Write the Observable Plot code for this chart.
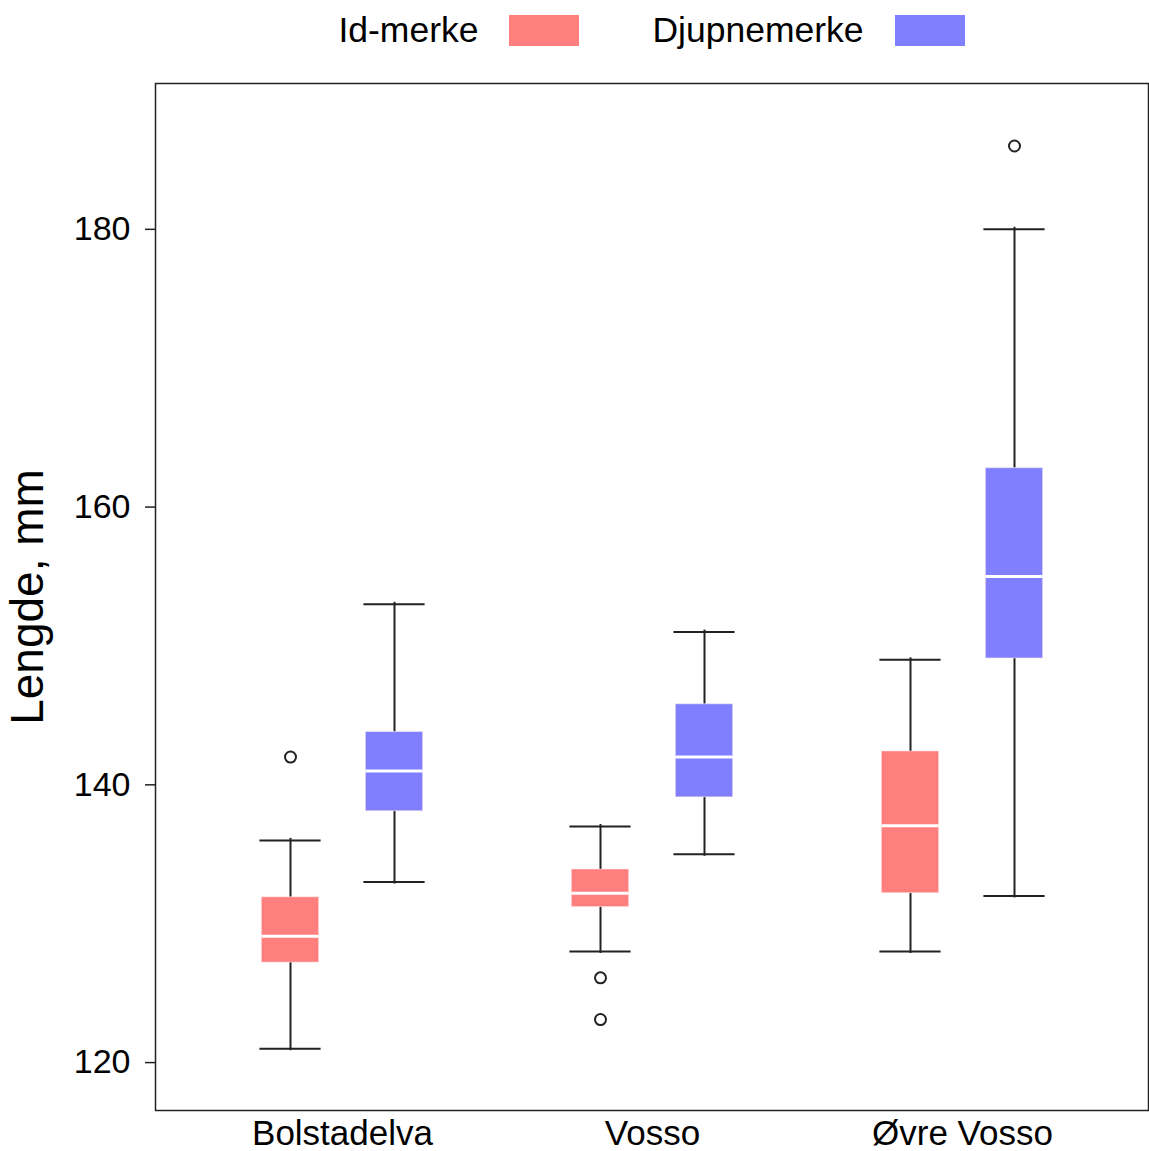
<!DOCTYPE html>
<html>
<head>
<meta charset="utf-8">
<script src="https://cdn.jsdelivr.net/npm/d3@7"></script>
<script src="https://cdn.jsdelivr.net/npm/@observablehq/plot@0.6"></script>
<style>
  html, body { margin: 0; padding: 0; background: #fff; }
  #wrap { position: relative; width: 1149px; height: 1151px; font-family: "Liberation Sans", Arial, sans-serif; }
  #legend { position: absolute; left: 155px; top: 13px; width: 993px; height: 35px; display: flex; justify-content: center; align-items: center; font-size: 35.5px; color: #000; }
  #legend .sw { width: 70px; height: 31px; display: inline-block; }
</style>
</head>
<body>
<div id="wrap">
  <div id="legend"></div>
</div>
<script>
const categories = ["Bolstadelva", "Vosso", "Øvre Vosso"];
const groups = ["Id-merke", "Djupnemerke"];
const colors = ["#FF7F7F", "#7F7FFF"];

// Summary stats per category: [whiskerLow, Q1, median, Q3, whiskerHigh]
const idLow    = [121, 128, 128];
const idQ1     = [127.2, 131.2, 132.2];
const idMedian = [129.1, 132.2, 137.05];
const idQ3     = [131.9, 133.9, 142.4];
const idHigh   = [136, 137, 149];
const idOutliers = [["Bolstadelva", 142], ["Vosso", 126.1], ["Vosso", 123.1]];

const djLow    = [133, 135, 132];
const djQ1     = [138.1, 139.1, 149.1];
const djMedian = [141, 142, 155];
const djQ3     = [143.8, 145.8, 162.8];
const djHigh   = [153, 151, 180];
const djOutliers = [["Øvre Vosso", 186]];

const yTicks = [120, 140, 160, 180];

const font = '"Liberation Sans", Arial, sans-serif';
const lineColor = "#222";

function rows(low, q1, med, q3, high) {
  return categories.map((c, i) => ({cat: c, low: low[i], q1: q1[i], med: med[i], q3: q3[i], high: high[i]}));
}
const idRows = rows(idLow, idQ1, idMedian, idQ3, idHigh);
const djRows = rows(djLow, djQ1, djMedian, djQ3, djHigh);

// box geometry inside each category band (bandwidth ~249px)
const off = 52, boxW = 58, capW = 62;
function boxMarks(data, outliers, color, side) {
  const bw = 248.8;
  const center = bw / 2 + side * off;
  const bl = center - boxW / 2, br = bw - (center + boxW / 2);
  const cl = center - capW / 2, cr = bw - (center + capW / 2);
  const dx = side * off;
  return [
    Plot.ruleX(data, {x: "cat", y1: "low", y2: "q1", dx, stroke: lineColor, strokeWidth: 2, insetTop: 2}),
    Plot.ruleX(data, {x: "cat", y1: "q3", y2: "high", dx, stroke: lineColor, strokeWidth: 2, insetBottom: 2}),
    Plot.tickY(data, {x: "cat", y: "low", stroke: lineColor, strokeWidth: 2, insetLeft: cl, insetRight: cr}),
    Plot.tickY(data, {x: "cat", y: "high", stroke: lineColor, strokeWidth: 2, insetLeft: cl, insetRight: cr}),
    Plot.rectY(data, {x: "cat", y1: "q1", y2: "q3", fill: color, stroke: "#ffe8e8", strokeOpacity: 0.5, strokeWidth: 1, insetLeft: bl, insetRight: br}),
    Plot.tickY(data, {x: "cat", y: "med", stroke: "white", strokeWidth: 3, insetLeft: bl, insetRight: br}),
    Plot.dot(outliers, {x: d => d[0], y: d => d[1], dx, r: 5.5, stroke: lineColor, strokeWidth: 2, fill: "white"})
  ];
}

const chart = Plot.plot({
  width: 1149,
  height: 1151,
  marginTop: 83,
  marginBottom: 41,
  marginLeft: 155,
  marginRight: 1,
  style: {fontFamily: font, fontSize: "34px", color: "#000", background: "white"},
  x: {domain: categories, paddingInner: 0.2, paddingOuter: 0.1965},
  y: {domain: [116.55, 190.5]},
  marks: [
    Plot.frame({stroke: lineColor, strokeWidth: 1.5}),
    Plot.axisY(yTicks, {tickSize: 10, tickPadding: 15, label: null, stroke: lineColor, strokeWidth: 1.5, fontSize: 34}),
    Plot.axisX({tickSize: 0, tickPadding: 10, label: null, fontSize: 35}),
    Plot.text(["Lengde, mm"], {frameAnchor: "left", textAnchor: "middle", rotate: -90, dx: -127, fontSize: 46, fill: "#000"}),
    ...boxMarks(idRows, idOutliers, colors[0], -1),
    ...boxMarks(djRows, djOutliers, colors[1], 1)
  ]
});

document.getElementById("wrap").appendChild(chart);
chart.style.display = "block";

const legend = document.getElementById("legend");
groups.forEach((g, i) => {
  const t = document.createElement("span");
  t.textContent = g;
  t.style.marginLeft = i === 0 ? "0px" : "73px";
  t.style.marginRight = "31px";
  const s = document.createElement("span");
  s.className = "sw";
  s.style.background = colors[i];
  legend.appendChild(t);
  legend.appendChild(s);
});
</script>
</body>
</html>
